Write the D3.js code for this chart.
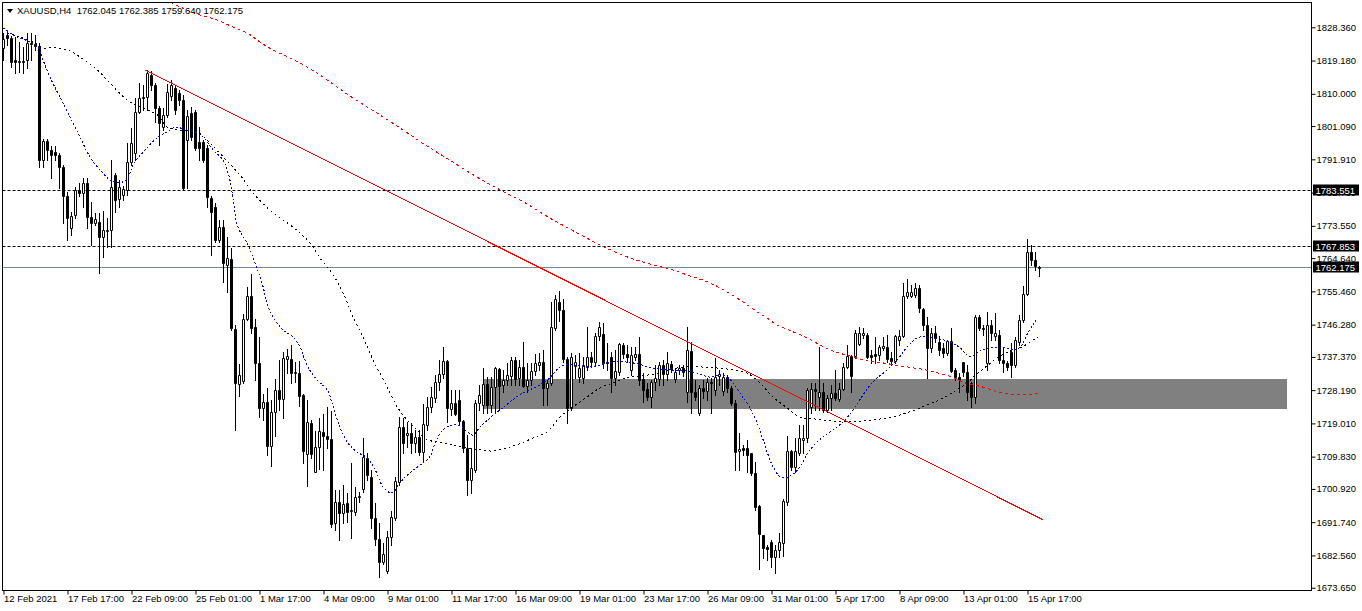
<!DOCTYPE html>
<html><head><meta charset="utf-8">
<script src="https://cdn.jsdelivr.net/npm/d3@7"></script>
<style>html,body{margin:0;padding:0;background:#fff;overflow:hidden}</style>
</head><body><svg id="c" width="1362" height="611"></svg>
<script>
const symbol = "XAUUSD,H4";
const opens = [
1822.7,1826.2,1825.4,1819.3,1818.8,1818.8,1819.3,1824.0,1823.8,1823.2,
1791.7,1797.0,1794.5,1793.9,1793.1,1789.8,1781.8,1773.0,1776.6,1783.5,
1782.6,1785.4,1776.0,1774.4,1774.6,1770.5,1772.1,1772.4,1787.6,1781.0,
1782.1,1783.5,1791.2,1793.7,1805.0,1809.1,1809.1,1815.2,1812.4,1806.1,
1800.8,1804.2,1809.4,1811.6,1810.2,1808.3,1797.3,1804.7,1805.0,1796.7,
1796.7,1795.1,1781.3,1778.8,1769.7,1773.2,1762.8,1764.4,1745.1,1729.9,
1730.7,1747.9,1754.2,1745.6,1735.7,1723.3,1724.9,1712.8,1722.2,1728.3,
1725.8,1736.8,1736.8,1732.9,1732.9,1726.9,1710.6,1719.2,1705.6,1712.5,
1716.7,1715.6,1714.7,1691.5,1697.4,1694.3,1697.1,1694.9,1694.6,1698.7,
1700.9,1709.5,1704.3,1692.9,1687.1,1680.8,1678.3,1687.7,1692.9,1702.9,
1718.0,1715.8,1716.4,1713.6,1715.3,1711.1,1718.6,1723.6,1726.0,1730.5,
1732.7,1736.3,1723.0,1724.7,1725.5,1719.7,1712.3,1703.4,1706.2,1724.7,
1724.1,1729.9,1724.1,1729.1,1734.1,1729.6,1731.0,1732.1,1736.5,1731.6,
1734.6,1729.4,1731.0,1733.5,1735.2,1736.0,1728.8,1730.2,1745.4,1752.5,
1750.3,1736.8,1723.3,1734.9,1731.8,1731.6,1734.6,1737.4,1736.0,1743.2,
1743.7,1736.0,1737.4,1731.6,1733.2,1740.7,1738.2,1733.8,1737.4,1738.2,
1731.3,1728.5,1726.3,1730.5,1731.3,1735.2,1732.7,1735.4,1731.3,1733.8,
1734.3,1727.7,1739.0,1727.7,1721.9,1728.8,1728.0,1730.5,1728.3,1732.1,
1728.0,1731.8,1728.8,1724.7,1711.4,1712.3,1712.3,1710.9,1705.4,1696.2,
1688.2,1684.9,1686.3,1682.2,1684.1,1686.0,1697.4,1711.4,1707.0,1710.9,
1714.5,1715.0,1723.6,1728.5,1726.3,1727.7,1722.7,1726.0,1727.4,1725.8,
1728.5,1734.6,1737.6,1737.6,1741.0,1743.4,1743.4,1737.9,1738.2,1737.9,
1739.8,1740.1,1737.1,1736.3,1742.1,1743.2,1754.2,1754.2,1754.5,1756.4,
1750.6,1746.2,1739.9,1744.0,1741.5,1739.9,1738.5,1741.8,1733.8,1731.8,
1736.0,1733.2,1730.2,1726.3,1748.4,1745.4,1735.7,1746.2,1743.2,1743.4,
1736.5,1735.7,1738.7,1735.2,1741.5,1747.6,1754.8,1766.3,1764.1,1762.045];
const highs = [
1826.8,1827.3,1826.0,1825.7,1824.3,1822.9,1826.8,1826.8,1826.2,1824.0,
1797.5,1797.5,1795.6,1795.6,1793.7,1790.4,1782.9,1777.4,1784.3,1785.4,
1786.8,1786.8,1780.2,1777.1,1777.1,1777.7,1775.7,1791.7,1788.2,1786.2,
1784.6,1796.4,1800.6,1808.9,1813.0,1812.4,1816.6,1816.3,1813.0,1806.6,
1806.1,1812.7,1813.8,1812.4,1811.1,1809.7,1805.5,1806.4,1805.5,1800.8,
1797.3,1795.9,1781.8,1779.9,1775.2,1775.2,1770.5,1767.5,1746.2,1735.4,
1749.2,1756.7,1760.3,1747.9,1742.9,1727.2,1728.8,1725.5,1731.3,1736.5,
1738.7,1739.6,1740.7,1736.0,1736.3,1727.2,1725.5,1720.0,1716.9,1720.5,
1721.6,1723.6,1722.5,1700.7,1700.7,1702.0,1699.8,1708.1,1701.5,1700.1,
1715.0,1710.9,1706.2,1697.1,1691.5,1686.0,1689.3,1694.9,1704.3,1720.8,
1720.5,1719.4,1719.2,1717.2,1717.2,1724.4,1726.3,1729.1,1732.4,1736.5,
1740.1,1736.5,1728.3,1728.3,1728.3,1720.0,1715.8,1712.3,1725.5,1729.6,
1734.3,1731.8,1731.8,1734.6,1734.3,1733.8,1735.7,1737.4,1737.4,1736.5,
1741.5,1735.7,1735.7,1738.2,1738.5,1739.3,1731.0,1752.5,1754.5,1755.6,
1753.4,1737.4,1738.5,1737.9,1738.5,1737.4,1745.6,1738.7,1744.0,1747.0,
1746.7,1741.2,1738.7,1739.3,1741.2,1741.2,1740.7,1740.1,1740.1,1742.9,
1732.9,1730.2,1731.0,1735.2,1736.0,1736.5,1738.7,1736.3,1734.3,1735.2,
1735.2,1745.6,1741.5,1731.0,1729.6,1731.0,1731.6,1731.6,1737.1,1733.8,
1732.9,1732.4,1729.4,1725.5,1716.4,1713.1,1714.5,1710.9,1708.4,1696.5,
1688.2,1685.5,1686.9,1685.5,1688.8,1698.2,1715.6,1711.7,1715.0,1718.6,
1718.6,1728.8,1730.2,1730.2,1740.1,1730.2,1726.9,1729.6,1733.8,1730.2,
1735.7,1740.7,1737.9,1744.8,1745.6,1745.4,1744.0,1739.3,1742.9,1740.7,
1742.9,1743.4,1738.7,1743.4,1744.8,1757.8,1758.9,1757.2,1757.8,1757.2,
1750.9,1748.4,1745.4,1745.9,1743.2,1741.2,1742.1,1745.4,1734.3,1732.9,
1736.0,1735.2,1730.5,1749.0,1749.0,1746.2,1749.8,1747.6,1749.5,1744.8,
1739.9,1736.3,1741.2,1742.9,1749.0,1757.0,1769.9,1768.3,1766.3,1762.385];
const lows = [
1819.3,1823.5,1817.4,1815.8,1816.0,1815.8,1817.1,1819.3,1822.1,1789.8,
1789.8,1791.7,1786.8,1791.7,1784.0,1774.4,1769.7,1771.0,1775.7,1781.8,
1778.8,1773.0,1768.3,1773.8,1760.5,1765.0,1767.7,1767.7,1777.4,1778.8,
1780.7,1782.1,1790.4,1791.7,1804.7,1805.5,1805.5,1811.1,1802.2,1795.9,
1800.0,1803.6,1808.3,1804.4,1806.9,1783.5,1784.0,1797.3,1794.5,1791.7,
1791.2,1778.8,1765.5,1769.1,1769.1,1758.1,1755.3,1744.8,1717.2,1726.6,
1730.2,1747.6,1744.0,1731.0,1720.8,1720.0,1710.3,1707.3,1715.6,1722.7,
1720.5,1732.9,1730.2,1730.5,1723.8,1708.1,1701.8,1709.5,1705.6,1706.5,
1706.2,1712.3,1690.4,1689.6,1686.9,1691.5,1691.8,1687.4,1693.8,1697.4,
1700.1,1703.4,1690.2,1685.5,1676.6,1680.2,1677.7,1685.5,1692.4,1702.0,
1710.9,1712.5,1710.9,1711.1,1710.3,1708.4,1717.2,1722.2,1725.0,1728.3,
1731.6,1719.4,1721.4,1721.4,1718.6,1711.1,1699.3,1699.8,1705.6,1722.7,
1721.9,1721.9,1722.2,1721.9,1722.7,1727.7,1729.6,1729.6,1729.6,1729.6,
1729.1,1727.7,1729.6,1732.4,1733.8,1724.1,1724.1,1729.6,1744.8,1747.3,
1736.0,1719.2,1722.7,1731.6,1730.5,1730.2,1733.8,1734.6,1735.2,1742.1,
1734.3,1733.8,1727.7,1729.6,1732.4,1737.1,1736.0,1732.4,1736.5,1729.6,
1724.9,1725.5,1723.6,1728.3,1729.6,1729.6,1731.0,1733.2,1730.5,1732.7,
1732.1,1725.0,1721.9,1725.5,1721.4,1726.1,1725.5,1721.9,1726.9,1729.6,
1726.9,1727.7,1724.1,1706.2,1706.2,1710.3,1705.6,1704.8,1695.1,1678.9,
1681.9,1681.3,1679.4,1677.7,1682.2,1682.4,1696.5,1706.2,1705.6,1710.3,
1710.9,1713.9,1721.9,1722.7,1722.7,1722.2,1722.2,1722.7,1725.5,1725.2,
1728.3,1734.3,1727.7,1737.1,1740.7,1742.6,1737.1,1735.7,1735.7,1736.5,
1739.3,1736.0,1735.2,1735.7,1740.7,1742.9,1753.7,1753.9,1753.9,1749.8,
1744.8,1731.6,1738.7,1741.5,1737.9,1737.4,1737.9,1733.2,1731.0,1727.7,
1732.1,1725.5,1723.6,1724.7,1744.8,1743.4,1733.8,1742.1,1742.1,1735.7,
1733.2,1733.8,1731.8,1734.6,1740.7,1747.0,1754.5,1762.8,1761.4,1759.640];
const closes = [
1825.2,1825.4,1818.8,1818.8,1819.1,1819.1,1824.0,1823.8,1823.2,1791.7,
1797.0,1794.5,1793.1,1793.1,1789.8,1781.8,1775.7,1776.3,1783.5,1782.6,
1785.4,1776.0,1774.4,1775.5,1770.5,1772.4,1772.4,1784.3,1780.7,1784.3,
1783.7,1791.2,1796.4,1805.0,1808.9,1808.9,1815.8,1812.4,1806.1,1801.9,
1804.2,1810.5,1812.4,1805.5,1808.3,1784.0,1803.9,1798.1,1795.1,1795.1,
1791.7,1781.5,1777.4,1769.7,1773.2,1763.3,1764.7,1745.4,1730.2,1732.4,
1747.9,1754.2,1745.4,1735.7,1723.3,1724.9,1712.8,1722.2,1728.3,1725.8,
1737.1,1737.6,1732.9,1733.2,1726.6,1711.4,1719.4,1710.6,1712.5,1716.9,
1715.6,1714.7,1691.3,1697.4,1694.3,1696.8,1694.6,1695.1,1698.7,1699.0,
1709.8,1704.8,1692.9,1687.1,1680.8,1683.0,1687.7,1693.2,1703.2,1718.0,
1713.6,1716.4,1713.6,1715.3,1711.1,1718.9,1723.6,1726.3,1730.5,1732.7,
1736.3,1723.3,1724.7,1721.6,1719.7,1712.3,1703.4,1706.7,1724.7,1726.9,
1729.9,1724.1,1729.1,1734.3,1729.4,1731.0,1732.4,1736.5,1731.3,1734.6,
1729.4,1731.0,1733.5,1735.7,1736.0,1728.8,1730.2,1745.6,1753.4,1750.3,
1736.8,1723.3,1737.4,1736.0,1734.3,1735.2,1737.4,1736.0,1743.2,1745.6,
1735.7,1735.7,1731.6,1733.5,1740.9,1738.2,1737.4,1737.9,1738.2,1731.0,
1728.3,1726.3,1730.5,1731.6,1735.2,1732.7,1735.7,1734.3,1733.2,1734.3,
1733.2,1739.3,1727.7,1726.3,1728.8,1728.0,1730.5,1730.2,1731.8,1732.7,
1731.8,1728.8,1724.7,1711.1,1711.9,1711.7,1710.3,1705.4,1696.0,1688.5,
1684.6,1684.4,1682.2,1684.1,1686.3,1697.6,1711.4,1707.0,1711.4,1715.0,
1715.0,1728.3,1728.5,1728.0,1727.7,1722.7,1726.0,1727.4,1726.0,1728.5,
1734.6,1737.6,1732.1,1744.0,1744.0,1744.0,1737.4,1737.4,1737.6,1740.1,
1740.4,1736.8,1736.3,1743.2,1743.2,1754.2,1755.3,1755.3,1756.4,1750.9,
1746.2,1739.9,1744.0,1742.6,1739.3,1738.5,1741.8,1733.5,1731.8,1731.3,
1733.2,1727.7,1726.3,1748.4,1745.4,1745.1,1746.2,1744.0,1744.0,1736.5,
1735.7,1734.6,1735.2,1742.1,1747.6,1754.8,1766.3,1764.1,1762.5,1762.175];

// moving averages: [bar index, price]
const maFast = [[0,1828.2],[2.4,1826.2],[4.1,1825.4],[7.4,1824.0],[8.6,1822.9],[9.9,1819.3],[11.6,1814.6],[14.1,1809.1],[16.6,1803.6],[19.1,1798.1],[21.6,1792.6],[24.1,1789.0],[26.6,1786.2],[27.9,1785.7],[29.9,1785.7],[31.1,1786.8],[32.4,1790.4],[34.9,1793.9],[38.4,1797.8],[40.9,1799.5],[42.9,1800.8],[44.1,1800.6],[45.9,1800.0],[47.9,1799.5],[49.9,1798.1],[52.4,1794.5],[54.9,1791.7],[56.6,1786.2],[57.4,1780.7],[58.6,1773.2],[60.9,1768.8],[62.9,1763.3],[64.9,1756.7],[66.1,1751.2],[68.4,1746.7],[69.9,1744.8],[72.4,1742.9],[74.1,1740.1],[76.1,1734.6],[78.4,1731.0],[80.9,1728.3],[82.4,1723.6],[84.1,1718.0],[86.1,1713.6],[88.4,1711.1],[90.9,1709.5],[92.9,1706.2],[94.9,1701.5],[97.1,1699.8],[99.1,1702.6],[101.6,1705.4],[104.9,1708.1],[106.6,1709.8],[107.9,1713.6],[109.9,1717.2],[112.4,1718.6],[114.6,1718.0],[115.9,1716.7],[117.4,1715.8],[119.1,1718.0],[121.6,1720.5],[124.1,1722.7],[126.6,1724.9],[129.1,1726.9],[131.6,1728.3],[134.1,1729.6],[136.6,1731.6],[139.1,1734.6],[141.6,1735.2],[146.6,1734.6],[152.4,1736.0],[157.4,1735.7],[162.4,1734.3],[166.6,1733.8],[172.4,1733.2],[176.6,1731.8],[179.1,1732.4],[180.9,1731.8],[182.4,1730.2],[184.1,1727.4],[186.6,1723.3],[188.4,1719.2],[189.9,1714.5],[192.4,1707.0],[194.6,1704.0],[197.1,1704.8],[199.1,1707.0],[201.6,1711.7],[204.9,1715.3],[207.4,1717.2],[209.9,1719.4],[212.4,1722.7],[214.9,1726.9],[217.4,1730.5],[220.9,1733.8],[223.4,1736.5],[225.9,1740.1],[228.4,1742.6],[230.9,1742.9],[234.1,1742.3],[236.6,1741.5],[239.1,1739.9],[241.6,1737.4],[244.1,1739.0],[246.1,1739.8],[248.6,1740.1],[251.1,1739.8],[252.9,1739.3],[254.6,1740.7],[256.1,1744.0],[258.4,1747.9]];
const maMid = [[0.9,1826.8],[7.4,1824.3],[9.9,1822.7],[12.4,1822.7],[15.9,1822.1],[19.1,1820.2],[23.4,1816.6],[26.6,1813.0],[30.9,1808.3],[34.1,1806.4],[38.4,1804.2],[40.9,1800.8],[44.1,1800.0],[48.4,1799.5],[51.6,1796.4],[54.9,1792.6],[59.1,1787.6],[62.4,1782.6],[66.6,1777.9],[70.9,1774.4],[74.1,1771.6],[76.6,1768.8],[79.1,1764.7],[82.4,1760.0],[84.9,1755.0],[87.4,1748.4],[89.9,1742.9],[92.4,1736.5],[95.9,1729.1],[98.4,1723.6],[100.9,1720.0],[103.4,1717.2],[105.9,1714.5],[109.1,1713.9],[112.4,1713.1],[115.9,1712.3],[119.1,1711.7],[122.4,1711.4],[125.9,1712.3],[129.1,1713.4],[132.4,1715.0],[135.9,1716.7],[139.1,1720.8],[142.4,1723.6],[145.9,1726.3],[149.1,1728.8],[152.4,1730.2],[155.9,1731.6],[159.1,1732.1],[162.4,1732.6],[165.9,1733.6],[170.1,1734.6],[174.1,1734.6],[178.4,1734.3],[182.4,1733.8],[185.9,1732.9],[189.1,1730.2],[192.4,1726.3],[195.9,1723.3],[199.1,1720.8],[202.4,1720.3],[207.4,1719.7],[212.4,1719.4],[217.4,1720.0],[222.4,1720.8],[226.6,1722.2],[230.9,1724.1],[234.9,1726.0],[238.4,1728.3],[240.9,1730.2],[243.4,1732.7],[245.9,1734.9],[248.4,1737.1],[251.1,1738.7],[254.6,1740.1],[257.1,1741.8],[258.6,1742.9]];
const maSlow = [[39.1,1836.7],[42.1,1835.1],[45.9,1833.1],[49.1,1831.8],[53.4,1830.4],[57.4,1828.4],[60.9,1826.8],[64.1,1824.3],[67.4,1822.1],[71.6,1819.9],[75.9,1817.4],[79.9,1814.6],[83.4,1811.9],[86.6,1809.4],[92.9,1805.0],[99.1,1800.6],[105.4,1795.9],[111.6,1791.7],[117.9,1787.3],[124.1,1783.5],[130.4,1779.9],[136.6,1775.7],[142.9,1771.9],[149.1,1768.3],[155.4,1765.2],[161.6,1763.0],[166.6,1761.6],[170.9,1760.0],[176.6,1757.8],[180.9,1755.3],[184.9,1752.5],[188.4,1749.8],[190.9,1748.1],[193.4,1746.2],[197.4,1744.3],[200.9,1742.6],[204.1,1740.7],[207.4,1739.0],[211.6,1737.6],[215.9,1736.3],[219.9,1735.7],[224.1,1734.9],[230.4,1733.8],[233.6,1732.9],[237.1,1731.8],[240.4,1730.2],[244.6,1729.1],[248.6,1727.7],[252.9,1726.9],[258.6,1727.2]];

const trendLine = [[35.4,1816.6],[259.9,1692.4]];
const zone = {from:119.8, to:320.9, top:1731.3, bottom:1723.1};
const dashedLevels = [1783.551, 1767.853];
const bidLevel = 1762.175;
const priceTicks = [1828.360,1819.180,1810.000,1801.090,1791.910,1782.730,1773.550,1764.640,1755.460,1746.280,1737.370,1728.190,1719.010,1709.830,1700.920,1691.740,1682.560,1673.650];
const timeTickBars = [0,16,32,48,64,80,96,112,128,144,160,176,192,208,224,240,256];
const timeTickLabels = ["12 Feb 2021","17 Feb 17:00","22 Feb 09:00","25 Feb 01:00","1 Mar 17:00","4 Mar 09:00","9 Mar 01:00","11 Mar 17:00","16 Mar 09:00","19 Mar 01:00","23 Mar 17:00","26 Mar 09:00","31 Mar 01:00","5 Apr 17:00","8 Apr 09:00","13 Apr 01:00","15 Apr 17:00"];

const FONT = "'Liberation Sans', Arial, sans-serif";
const svg = d3.select("#c");
const L = 2.5, T = 2.5, R = 1311.5, B = 590.5;
const x = d3.scaleLinear().domain([0, 1]).range([3.5, 7.5]);
const y = d3.scaleLinear().domain([1673.65, 1828.36]).range([587.7, 27.3]);
const fmt = d3.format(".3f");

svg.append("rect").attr("width",1362).attr("height",611).attr("fill","#fff");
svg.append("defs").append("clipPath").attr("id","plot").append("rect")
  .attr("x",L+0.5).attr("y",T+0.5).attr("width",R-L-1).attr("height",B-T-1);
const g = svg.append("g").attr("clip-path","url(#plot)");

// zone rectangle
g.append("rect").attr("x",Math.round(x(zone.from))).attr("width",Math.round(x(zone.to)-x(zone.from)))
  .attr("y",Math.round(y(zone.top))).attr("height",Math.round(y(zone.bottom)-y(zone.top))).attr("fill","#808080");

// horizontal levels
const snap = v => Math.round(v) + 0.5;
g.selectAll("line.lvl").data(dashedLevels).join("line")
  .attr("x1",L).attr("x2",R).attr("y1",d=>snap(y(d))).attr("y2",d=>snap(y(d)))
  .attr("stroke","#000").attr("stroke-dasharray","3,2");
g.append("line").attr("x1",L).attr("x2",R).attr("y1",snap(y(bidLevel))).attr("y2",snap(y(bidLevel)))
  .attr("stroke","#778899");

// candles
const bars = opens.map((o,i)=>({i,o,c:closes[i],h:Math.max(highs[i],o,closes[i]),l:Math.min(lows[i],o,closes[i])}));
g.selectAll("line.wick").data(bars).join("line")
  .attr("x1",d=>x(d.i)).attr("x2",d=>x(d.i))
  .attr("y1",d=>Math.round(y(d.h))).attr("y2",d=>Math.round(y(d.l))+1)
  .attr("stroke","#000");
g.selectAll("path.body").data(bars).join("path")
  .attr("d",d=>{
    const t = snap(y(Math.max(d.o,d.c))), b = snap(y(Math.min(d.o,d.c)));
    const x0 = x(d.i)-1, x1 = x(d.i)+1;
    return `M${x0},${t}H${x1}V${b}H${x0}Z`;
  })
  .attr("fill",d=>d.c>=d.o?"#fff":"#000").attr("stroke","#000");

// moving averages
const line = d3.line().x(d=>x(d[0])).y(d=>y(d[1])).curve(d3.curveCatmullRom);
g.append("path").datum(maSlow).attr("d",line).attr("fill","none").attr("stroke","#ff0000")
  .attr("stroke-dasharray","3,3").attr("shape-rendering","crispEdges");
g.append("path").datum(maMid).attr("d",line).attr("fill","none").attr("stroke","#000")
  .attr("stroke-dasharray","2,3").attr("shape-rendering","crispEdges");
g.append("path").datum(maFast).attr("d",line).attr("fill","none").attr("stroke","#0000ff")
  .attr("stroke-dasharray","2,2").attr("shape-rendering","crispEdges");

// trend line
g.append("line").attr("x1",x(trendLine[0][0])).attr("y1",y(trendLine[0][1]))
  .attr("x2",x(trendLine[1][0])).attr("y2",y(trendLine[1][1])).attr("stroke","#ff0000")
  .attr("shape-rendering","crispEdges");

// frame
svg.append("rect").attr("x",L).attr("y",T).attr("width",R-L).attr("height",B-T)
  .attr("fill","none").attr("stroke","#000");

// price axis
const ya = svg.append("g").attr("transform",`translate(${R},0)`)
  .call(d3.axisRight(y).tickValues(priceTicks).tickFormat(fmt).tickSize(4).tickPadding(1));
ya.select(".domain").remove();
ya.selectAll("text").attr("font-family",FONT).attr("font-size","9.5px").attr("fill","#000");
ya.selectAll("line").attr("stroke","#000");

// time axis
const xa = svg.append("g").attr("transform",`translate(0,${B})`)
  .call(d3.axisBottom(x).tickValues(timeTickBars).tickFormat((d,i)=>timeTickLabels[i]).tickSize(4).tickPadding(1));
xa.select(".domain").remove();
xa.selectAll("text").attr("font-family",FONT).attr("font-size","9.5px").attr("fill","#000")
  .attr("text-anchor","start").attr("dx","0");
xa.selectAll("line").attr("stroke","#000");

// price labels
const tags = [...dashedLevels, bidLevel];
const tg = svg.append("g");
tags.forEach(v=>{
  const yy = snap(y(v));
  tg.append("rect").attr("x",R+1.5).attr("y",yy-6).attr("width",46).attr("height",11).attr("fill","#000");
  tg.append("text").attr("x",R+4).attr("y",yy+3.5).attr("fill","#fff")
    .attr("font-family",FONT).attr("font-size","9.5px").text(fmt(v));
});

// header
const last = opens.length-1;
svg.append("path").attr("d","M7,9H13L10,13Z").attr("fill","#000");
svg.append("text").attr("x",17).attr("y",14).attr("font-family",FONT).attr("font-size","9.5px")
  .attr("xml:space","preserve").style("white-space","pre")
  .text(`${symbol}  ${fmt(opens[last])} ${fmt(highs[last])} ${fmt(lows[last])} ${fmt(closes[last])}`);
</script></body></html>
